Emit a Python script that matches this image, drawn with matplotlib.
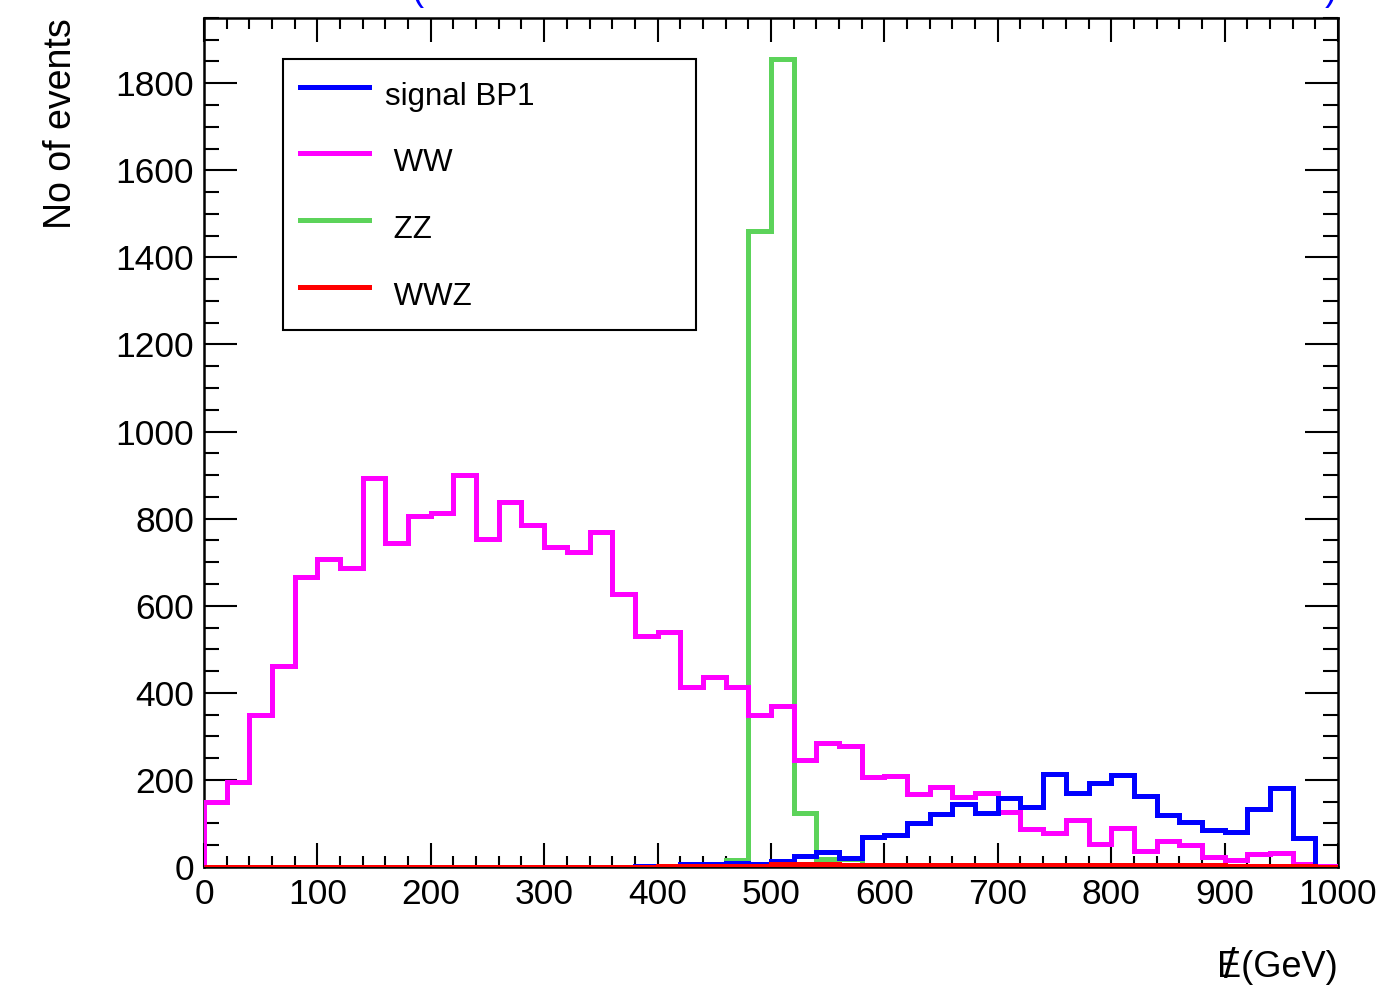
import matplotlib
matplotlib.use("Agg")
import matplotlib.pyplot as plt
import numpy as np
from matplotlib.ticker import MultipleLocator

plt.rcParams["font.family"] = ["Liberation Sans", "DejaVu Sans"]

# 50 bins of 20 GeV, 0 - 1000 GeV
bin_edges = np.arange(0, 1001, 20)

signal_bp1 = [0, 0, 0, 0, 0, 0, 0, 0, 0, 0,
              0, 0, 0, 0, 0, 0, 0, 1, 1, 2,
              3, 8, 6, 10, 7, 14, 25, 35, 20, 70,
              73, 100, 122, 145, 123, 158, 138, 213, 171, 194,
              211, 164, 119, 104, 85, 81, 133, 181, 66, 0]

ww = [150, 196, 349, 461, 665, 707, 687, 894, 745, 806,
      813, 901, 753, 839, 785, 735, 724, 770, 628, 531,
      540, 414, 437, 414, 349, 370, 246, 284, 278, 207,
      209, 168, 184, 161, 171, 126, 87, 79, 108, 53,
      89, 37, 60, 50, 22, 16, 30, 31, 8, 2]

zz = [0, 0, 0, 0, 0, 0, 0, 0, 0, 0,
      0, 0, 0, 0, 0, 0, 0, 0, 0, 0,
      0, 2, 3, 16, 1460, 1855, 123, 18, 18, 0,
      0, 0, 0, 0, 0, 0, 0, 0, 0, 0,
      0, 0, 0, 0, 0, 0, 0, 0, 0, 0]

wwz = [0, 0, 0, 0, 0, 0, 0, 0, 0, 0,
       1, 1, 1, 1, 1, 1, 1, 1, 1, 1,
       2, 2, 2, 2, 2, 6, 6, 6, 5, 5,
       5, 5, 5, 5, 5, 5, 4, 4, 4, 4,
       4, 4, 4, 4, 4, 3, 3, 3, 3, 0]

fig = plt.figure(figsize=(13.78, 9.85), dpi=100)
ax = fig.add_axes([0.148, 0.1198, 0.823, 0.862])

lw = 3.6
ax.stairs(zz, bin_edges, color="#5cd35a", lw=lw, label=" ZZ", zorder=2)
ax.stairs(ww, bin_edges, color="#ff00ff", lw=lw, label=" WW", zorder=3)
ax.stairs(signal_bp1, bin_edges, color="#0000ff", lw=lw, label="signal BP1", zorder=4)
ax.stairs(wwz, bin_edges, color="#ff0000", lw=lw, label=" WWZ", zorder=5)

ax.set_xlim(0, 1000)
ax.set_ylim(0, 1950)

# ROOT style ticks on all four sides
ax.xaxis.set_major_locator(MultipleLocator(100))
ax.xaxis.set_minor_locator(MultipleLocator(20))
ax.yaxis.set_major_locator(MultipleLocator(200))
ax.yaxis.set_minor_locator(MultipleLocator(50))
ax.tick_params(axis="both", which="both", direction="in", top=True, right=True,
               width=1.5, labelsize=25.5)
ax.tick_params(axis="x", which="major", length=17, pad=8)
ax.tick_params(axis="x", which="minor", length=8)
ax.tick_params(axis="y", which="major", length=24, pad=7)
ax.tick_params(axis="y", which="minor", length=11)
for sp in ax.spines.values():
    sp.set_linewidth(1.8)

ax.set_ylabel("No of events", fontsize=27, loc="top", labelpad=26)
xlab = ax.set_xlabel("E(GeV)", fontsize=26, loc="right", labelpad=28)

# legend in the order of the original
handles, labels = ax.get_legend_handles_labels()
order = ["signal BP1", " WW", " ZZ", " WWZ"]
hmap = dict(zip(labels, handles))
leg = ax.legend([hmap[k] for k in order], order, loc="upper left",
                bbox_to_anchor=(0.0697, 0.6396, 0.364, 0.312), mode="expand",
                borderaxespad=0, fontsize=22.5, frameon=True, fancybox=False,
                framealpha=1, edgecolor="black", handlelength=2.2,
                handleheight=1.4, handletextpad=0.5, labelspacing=0.98,
                borderpad=0.55)
leg.get_frame().set_linewidth(1.5)

# slash over the E of the x title (missing energy)
fig.canvas.draw()
bb = xlab.get_window_extent()
e_w = 0.667 * 26 * 100 / 72
ax.annotate("/", xy=(bb.x0 + e_w / 2, (bb.y0 + bb.y1) / 2), xycoords="figure pixels",
            fontsize=30, ha="center", va="center")

# title cut off at the top of the canvas: only the brackets show
fig.text(0.303, 1.0, "(", color="#0000ff", fontsize=26, va="baseline", ha="center")
fig.text(0.966, 1.0, ")", color="#0000ff", fontsize=26, va="baseline", ha="center")

fig.savefig("out.png", dpi=100)
